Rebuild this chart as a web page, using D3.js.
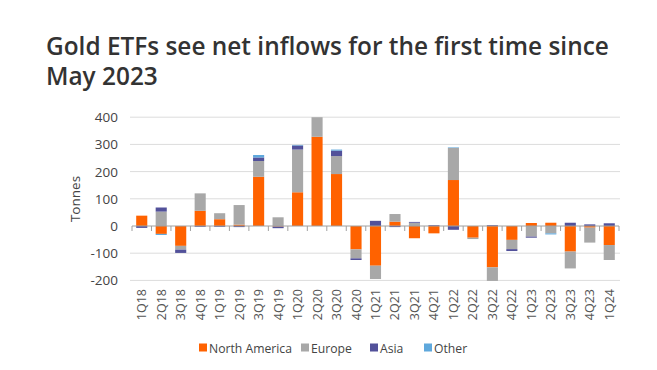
<!DOCTYPE html>
<meta charset="utf-8">
<style>
body { margin: 0; background: #fff; }
text { font-family: "Open Sans", "Noto Sans", sans-serif; }
</style>
<body>
<script src="https://d3js.org/d3.v7.min.js"></script>
<script>

// quarterly net flows by region, tonnes
var quarters = ["1Q18","2Q18","3Q18","4Q18","1Q19","2Q19","3Q19","4Q19",
                "1Q20","2Q20","3Q20","4Q20","1Q21","2Q21","3Q21","4Q21",
                "1Q22","2Q22","3Q22","4Q22","1Q23","2Q23","3Q23","4Q23","1Q24"];
var northAmerica = [38,-29,-73,56,25,5,181,-2,124,328,191,-86,-146,16,-45,-27,169,-43,-152,-51,11,12,-94,-6,-70];
var europe       = [0,53,-14,64,22,72,58,32,157,72,66,-33,-49,28,12,0,118,-5,-50,-34,-39,-27,-62,-55,-55];
var asia         = [-7,15,-12,-3,-3,-4,13,-6,15,0,20,-6,19,-4,3,3,-14,0,3,-7,-4,0,12,6,10];
var other        = [0,-4,0,0,0,0,9,0,2,0,4,0,0,0,0,0,2,0,0,0,0,-4,0,0,0];

var keys = ["North America","Europe","Asia","Other"];
var colors = ["#ff6200","#a8a8a8","#52519a","#5fa8dc"];
var yTicks = [400,300,200,100,0,-100,-200];

var W = 657, H = 370;
var svg = d3.select("body").append("svg")
    .attr("width", W)
    .attr("height", H);

// title
var title = svg.append("text")
    .attr("x", 47)
    .attr("y", 55)
    .style("font-size", "24.4px")
    .style("font-weight", 600)
    .style("fill", "#333");
title.append("tspan").attr("x", 46).text("Gold ETFs see net inflows for the first time since");
title.append("tspan").attr("x", 46).attr("dy", 30).text("May 2023");

var rows = quarters.map(function(q, i) {
  return {q: q, "North America": northAmerica[i], "Europe": europe[i], "Asia": asia[i], "Other": other[i]};
});

var x = d3.scaleBand()
    .domain(quarters)
    .range([132, 619])
    .paddingInner(0.43)
    .paddingOuter(0.215);
var y = d3.scaleLinear()
    .domain([-200, 400])
    .range([280.4, 117.2]);

// gridlines
svg.append("g").selectAll("line")
    .data(yTicks.filter(function(d) { return d != 0; }))
    .enter().append("line")
    .attr("x1", 130).attr("x2", 620)
    .attr("y1", function(d) { return y(d); })
    .attr("y2", function(d) { return y(d); })
    .style("stroke", "#dcdcdc")
    .style("stroke-width", 1);

// y labels
svg.append("g").selectAll("text")
    .data(yTicks)
    .enter().append("text")
    .attr("x", 118)
    .attr("y", function(d) { return y(d) + 5; })
    .attr("text-anchor", "end")
    .style("font-size", "13.5px")
    .style("fill", "#444")
    .text(function(d) { return d; });

svg.append("text")
    .attr("transform", "translate(80,199) rotate(-90)")
    .attr("text-anchor", "middle")
    .style("font-size", "13.5px")
    .style("fill", "#444")
    .text("Tonnes");

// bars
var series = d3.stack().keys(keys).offset(d3.stackOffsetDiverging)(rows);
svg.append("g").selectAll("g")
    .data(series)
    .enter().append("g")
    .style("fill", function(d, i) { return colors[i]; })
  .selectAll("rect")
    .data(function(d) { return d; })
    .enter().append("rect")
    .attr("x", function(d) { return x(d.data.q); })
    .attr("width", x.bandwidth())
    .attr("y", function(d) { return y(Math.max(d[0], d[1])); })
    .attr("height", function(d) { return Math.abs(y(d[0]) - y(d[1])); });

// zero axis with ticks between categories
svg.append("line")
    .attr("x1", 132).attr("x2", 619)
    .attr("y1", y(0)).attr("y2", y(0))
    .style("stroke", "#a0a0a0");
svg.append("g").selectAll("line")
    .data(d3.range(quarters.length + 1))
    .enter().append("line")
    .attr("x1", function(i) { return 132 + i * x.step(); })
    .attr("x2", function(i) { return 132 + i * x.step(); })
    .attr("y1", y(0)).attr("y2", y(0) + 5)
    .style("stroke", "#a0a0a0");

// x labels
svg.append("g").selectAll("text")
    .data(quarters)
    .enter().append("text")
    .attr("transform", function(d) {
      return "translate(" + (x(d) + x.bandwidth() / 2 + 4.5) + ",289) rotate(-90)";
    })
    .attr("text-anchor", "end")
    .style("font-size", "12.5px")
    .style("fill", "#555")
    .text(function(d) { return d; });

// legend
var legX = [199, 301, 370, 424];
var leg = svg.append("g").selectAll("g")
    .data(keys)
    .enter().append("g")
    .attr("transform", function(d, i) { return "translate(" + legX[i] + ",348)"; });
leg.append("rect")
    .attr("x", 0).attr("y", -4.5)
    .attr("width", 8).attr("height", 8)
    .style("fill", function(d, i) { return colors[i]; });
leg.append("text")
    .attr("x", 10)
    .attr("y", 5)
    .style("font-size", "12.2px")
    .style("fill", "#444")
    .text(function(d) { return d; });

</script>
</body>
